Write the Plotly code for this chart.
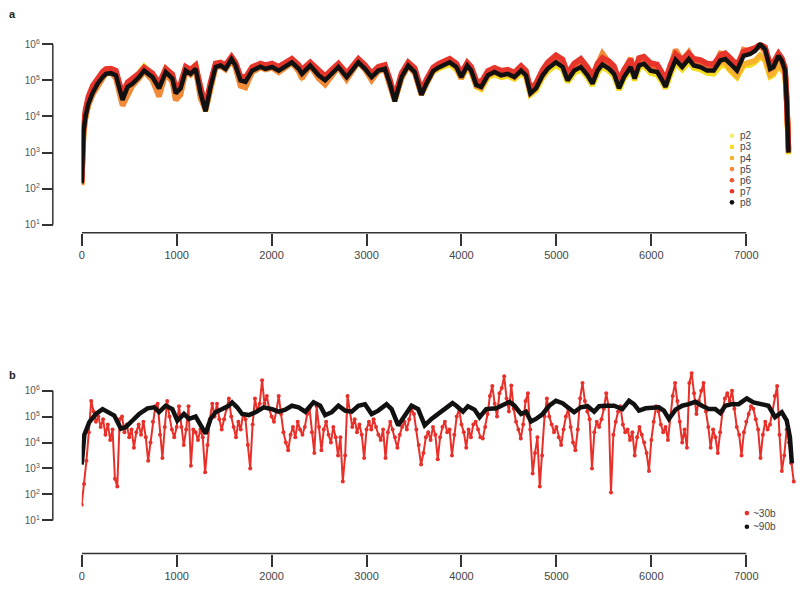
import plotly.graph_objects as go

# ---------------- Panel a: coverage (log10) along genome, passages p2..p8
pos_a = [0, 8, 20, 40, 70, 115, 168, 220, 255, 308,
         360, 430, 483, 535, 605, 658, 745, 815, 885, 955,
         990, 1042, 1095, 1147, 1200, 1252, 1305, 1357, 1410, 1462,
         1515, 1578, 1620, 1672, 1725, 1795, 1882, 1935, 2005, 2075,
         2144, 2214, 2285, 2320, 2407, 2495, 2564, 2634, 2704, 2791,
         2844, 2914, 2984, 3054, 3124, 3194, 3246, 3298, 3369, 3439,
         3508, 3578, 3631, 3701, 3760, 3876, 3946, 3998, 4061, 4103,
         4156, 4208, 4278, 4348, 4418, 4488, 4558, 4628, 4680, 4726,
         4785, 4855, 4908, 4995, 5065, 5118, 5187, 5257, 5328, 5380,
         5433, 5485, 5555, 5607, 5660, 5712, 5782, 5824, 5870, 5922,
         5992, 6062, 6115, 6150, 6202, 6255, 6325, 6394, 6447, 6517,
         6587, 6657, 6727, 6779, 6832, 6902, 6971, 7041, 7093, 7146,
         7198, 7251, 7286, 7339, 7374, 7409, 7426, 7437, 7445]

log_p8 = [2.15, 3.0, 3.6, 4.0, 4.35, 4.65, 4.91, 5.09, 5.18, 5.20,
          5.14, 4.46, 4.82, 4.91, 5.09, 5.27, 5.09, 4.78, 5.23, 5.05,
          4.64, 4.78, 5.27, 5.18, 5.32, 4.64, 4.14, 4.82, 5.37, 5.41,
          5.32, 5.59, 5.41, 5.00, 4.96, 5.27, 5.38, 5.32, 5.37, 5.27,
          5.37, 5.50, 5.32, 5.18, 5.41, 5.14, 5.00, 5.18, 5.37, 5.09,
          5.27, 5.50, 5.32, 5.09, 5.27, 5.32, 4.91, 4.42, 5.09, 5.41,
          5.23, 4.60, 4.91, 5.26, 5.36, 5.50, 5.37, 5.09, 5.41, 5.27,
          4.87, 4.82, 5.14, 5.23, 5.14, 5.18, 5.09, 5.27, 5.14, 4.64,
          4.78, 5.14, 5.32, 5.50, 5.37, 5.00, 5.27, 5.37, 5.14, 4.91,
          5.27, 5.44, 5.32, 5.18, 4.78, 5.09, 5.37, 5.05, 5.41, 5.46,
          5.27, 5.23, 5.00, 4.82, 5.23, 5.57, 5.37, 5.59, 5.41, 5.37,
          5.27, 5.27, 5.55, 5.59, 5.46, 5.27, 5.68, 5.73, 5.82, 6.00,
          5.86, 5.32, 5.37, 5.68, 5.55, 5.27, 4.46, 3.55, 3.0]

log_p7 = [2.2, 3.2, 3.8, 4.2, 4.55, 4.85, 5.08, 5.24, 5.32, 5.33,
          5.27, 4.62, 4.95, 5.05, 5.2, 5.36, 5.2, 4.92, 5.33, 5.17,
          4.8, 4.92, 5.38, 5.3, 5.42, 4.8, 4.3, 4.95, 5.47, 5.5,
          5.43, 5.66, 5.5, 5.12, 5.08, 5.37, 5.47, 5.42, 5.47, 5.38,
          5.47, 5.6, 5.43, 5.3, 5.5, 5.26, 5.12, 5.3, 5.47, 5.2,
          5.38, 5.6, 5.43, 5.2, 5.38, 5.43, 5.03, 4.55, 5.2, 5.5,
          5.34, 4.73, 5.03, 5.36, 5.46, 5.6, 5.47, 5.2, 5.5, 5.38,
          5.0, 4.95, 5.26, 5.35, 5.27, 5.3, 5.22, 5.4, 5.27, 4.78,
          4.92, 5.3, 5.5, 5.7, 5.58, 5.2, 5.47, 5.6, 5.36, 5.12,
          5.47, 5.62, 5.53, 5.4, 5.0, 5.3, 5.58, 5.25, 5.62, 5.66,
          5.48, 5.44, 5.2, 5.02, 5.43, 5.73, 5.57, 5.75, 5.6, 5.57,
          5.47, 5.45, 5.7, 5.75, 5.62, 5.43, 5.8, 5.85, 5.9, 6.0,
          5.92, 5.45, 5.5, 5.75, 5.62, 5.35, 4.6, 3.7, 3.1]

log_p6 = [2.18, 3.1, 3.7, 4.1, 4.45, 4.75, 5.0, 5.17, 5.26, 5.28,
          5.22, 4.55, 4.9, 4.98, 5.15, 5.33, 5.15, 4.86, 5.3, 5.12,
          4.72, 4.86, 5.34, 5.25, 5.38, 4.73, 4.22, 4.9, 5.43, 5.47,
          5.38, 5.63, 5.46, 5.07, 5.03, 5.33, 5.44, 5.38, 5.43, 5.34,
          5.43, 5.56, 5.38, 5.25, 5.46, 5.2, 5.07, 5.25, 5.43, 5.15,
          5.33, 5.56, 5.38, 5.15, 5.33, 5.38, 4.97, 4.5, 5.15, 5.46,
          5.3, 4.67, 4.97, 5.32, 5.42, 5.56, 5.43, 5.15, 5.46, 5.33,
          4.94, 4.89, 5.2, 5.3, 5.21, 5.25, 5.16, 5.34, 5.21, 4.72,
          4.86, 5.24, 5.44, 5.64, 5.52, 5.15, 5.41, 5.54, 5.3, 5.06,
          5.41, 5.58, 5.47, 5.34, 4.93, 5.24, 5.52, 5.2, 5.56, 5.6,
          5.42, 5.38, 5.14, 4.96, 5.38, 5.68, 5.5, 5.7, 5.54, 5.5,
          5.42, 5.4, 5.65, 5.7, 5.57, 5.38, 5.76, 5.8, 5.87, 5.98,
          5.9, 5.42, 5.46, 5.72, 5.6, 5.32, 4.55, 3.65, 3.05]

log_p5 = [2.1, 2.9, 3.5, 3.95, 4.3, 4.6, 4.85, 5.05, 5.2, 5.22,
          5.05, 4.3, 4.55, 4.85, 5.05, 5.25, 5.0, 4.55, 5.2, 4.95,
          4.45, 4.6, 5.25, 5.15, 5.3, 4.5, 4.2, 4.7, 5.35, 5.4,
          5.3, 5.55, 5.35, 4.85, 4.8, 5.22, 5.36, 5.3, 5.35, 5.22,
          5.35, 5.48, 5.25, 5.05, 5.4, 5.05, 4.88, 5.12, 5.36, 5.02,
          5.25, 5.5, 5.3, 5.0, 5.25, 5.3, 4.85, 4.45, 5.05, 5.4,
          5.2, 4.6, 4.9, 5.25, 5.38, 5.52, 5.38, 5.05, 5.42, 5.25,
          4.85, 4.8, 5.15, 5.25, 5.18, 5.22, 5.1, 5.3, 5.18, 4.65,
          4.8, 5.2, 5.45, 5.62, 5.48, 5.05, 5.42, 5.55, 5.25, 5.0,
          5.45, 5.75, 5.5, 5.35, 4.85, 5.25, 5.62, 5.2, 5.6, 5.6,
          5.35, 5.3, 5.05, 4.9, 5.4, 5.85, 5.55, 5.78, 5.5, 5.45,
          5.35, 5.35, 5.75, 5.72, 5.5, 5.3, 5.85, 5.8, 5.85, 5.95,
          5.8, 5.3, 5.35, 5.65, 5.5, 5.25, 4.5, 3.6, 3.0]

log_p4 = [2.12, 2.95, 3.55, 3.95, 4.32, 4.62, 4.88, 5.06, 5.18, 5.2,
          5.1, 4.35, 4.65, 4.88, 5.1, 5.3, 5.05, 4.62, 5.22, 5.0,
          4.5, 4.68, 5.28, 5.2, 5.36, 4.55, 4.15, 4.75, 5.36, 5.42,
          5.32, 5.58, 5.38, 4.9, 4.88, 5.25, 5.38, 5.32, 5.36, 5.25,
          5.36, 5.5, 5.3, 5.1, 5.42, 5.1, 4.92, 5.15, 5.38, 5.06,
          5.27, 5.52, 5.32, 5.05, 5.27, 5.32, 4.88, 4.42, 5.08, 5.42,
          5.22, 4.62, 4.92, 5.26, 5.37, 5.5, 5.37, 5.08, 5.4, 5.26,
          4.86, 4.8, 5.13, 5.22, 5.14, 5.18, 5.08, 5.27, 5.14, 4.64,
          4.78, 5.14, 5.35, 5.55, 5.42, 5.02, 5.32, 5.45, 5.18, 4.95,
          5.32, 5.55, 5.4, 5.25, 4.82, 5.15, 5.45, 5.1, 5.45, 5.5,
          5.3, 5.25, 5.02, 4.85, 5.28, 5.65, 5.45, 5.65, 5.45, 5.4,
          5.3, 5.28, 5.5, 5.5, 5.3, 5.12, 5.45, 5.5, 5.55, 5.7,
          5.6, 5.15, 5.2, 5.45, 5.35, 5.2, 4.45, 3.55, 3.0]

log_p3 = [2.15, 3.0, 3.6, 4.0, 4.38, 4.7, 4.95, 5.12, 5.22, 5.25,
          5.18, 4.5, 4.85, 4.95, 5.15, 5.36, 5.12, 4.8, 5.3, 5.12,
          4.68, 4.8, 5.32, 5.25, 5.42, 4.68, 4.2, 4.85, 5.42, 5.45,
          5.35, 5.6, 5.42, 5.02, 5.0, 5.3, 5.4, 5.33, 5.38, 5.28,
          5.38, 5.52, 5.33, 5.18, 5.42, 5.14, 5.0, 5.18, 5.38, 5.1,
          5.28, 5.5, 5.33, 5.1, 5.28, 5.33, 4.92, 4.45, 5.1, 5.4,
          5.22, 4.62, 4.9, 5.24, 5.32, 5.45, 5.3, 5.05, 5.35, 5.22,
          4.82, 4.75, 5.08, 5.16, 5.08, 5.12, 5.04, 5.2, 5.08, 4.6,
          4.72, 5.08, 5.25, 5.42, 5.3, 4.95, 5.2, 5.3, 5.08, 4.86,
          5.2, 5.38, 5.25, 5.12, 4.74, 5.04, 5.32, 5.0, 5.35, 5.4,
          5.2, 5.15, 4.95, 4.78, 5.16, 5.48, 5.3, 5.5, 5.34, 5.3,
          5.2, 5.18, 5.4, 5.42, 5.26, 5.08, 5.4, 5.42, 5.5, 5.65,
          5.55, 5.1, 5.15, 5.4, 5.3, 5.15, 4.4, 3.5, 2.95]

log_p2 = [2.2, 3.05, 3.65, 4.05, 4.4, 4.72, 4.98, 5.14, 5.25, 5.28,
          5.2, 4.55, 4.88, 4.98, 5.2, 5.4, 5.15, 4.84, 5.32, 5.15,
          4.72, 4.85, 5.35, 5.28, 5.45, 4.72, 4.25, 4.88, 5.44, 5.47,
          5.38, 5.62, 5.45, 5.05, 5.03, 5.32, 5.42, 5.35, 5.4, 5.3,
          5.4, 5.55, 5.36, 5.2, 5.45, 5.18, 5.04, 5.22, 5.42, 5.14,
          5.32, 5.55, 5.36, 5.14, 5.3, 5.36, 4.95, 4.5, 5.12, 5.43,
          5.24, 4.65, 4.93, 5.25, 5.34, 5.46, 5.32, 5.05, 5.36, 5.24,
          4.84, 4.78, 5.1, 5.18, 5.1, 5.14, 5.05, 5.22, 5.1, 4.62,
          4.74, 5.1, 5.28, 5.45, 5.32, 4.97, 5.22, 5.32, 5.1, 4.88,
          5.22, 5.4, 5.27, 5.14, 4.76, 5.06, 5.34, 5.02, 5.37, 5.42,
          5.22, 5.17, 4.97, 4.8, 5.18, 5.5, 5.32, 5.52, 5.36, 5.32,
          5.22, 5.2, 5.42, 5.45, 5.28, 5.1, 5.42, 5.45, 5.52, 5.68,
          5.58, 5.12, 5.17, 5.42, 5.32, 5.17, 4.42, 3.52, 2.98]

series_a = ["p2", "p3", "p4", "p5", "p6", "p7", "p8"]

# ---------------- Panel b: ~30b and ~90b windows (log10 coverage)
pos_30b = list(range(0, 7501, 25))
log_30b = [1.6, 2.4, 3.3, 4.4, 5.6, 5.2, 4.8, 5.0, 4.6, 4.9, 4.3, 4.7, 4.1, 4.5, 2.6, 2.3, 4.9, 5.0, 4.4, 4.7,
           4.2, 4.5, 3.8, 4.4, 4.7, 4.3, 4.8, 4.2, 3.3, 4.0, 4.8, 5.4, 5.5, 4.3, 3.4, 4.6, 5.6, 5.0, 4.5, 4.2,
           4.6, 5.4, 4.6, 3.9, 4.5, 5.4, 3.1, 4.5, 4.4, 4.1, 4.5, 4.2, 2.85, 3.9, 4.9, 5.5, 5.0, 5.5, 4.9, 4.5,
           4.9, 5.3, 5.7, 5.0, 4.6, 4.2, 4.8, 4.5, 5.1, 4.9, 3.9, 3.0, 4.7, 5.7, 5.2, 5.5, 6.4, 5.5, 5.8, 5.3,
           5.0, 4.8, 5.2, 5.8, 5.1, 4.4, 4.0, 3.7, 4.3, 4.6, 4.2, 4.8, 4.5, 4.3, 4.6, 5.1, 5.3, 4.4, 3.6, 5.4,
           4.6, 3.7, 4.5, 4.8, 4.3, 4.0, 4.6, 4.2, 3.5, 4.2, 2.5, 3.5, 5.8, 5.2, 4.6, 4.9, 4.4, 4.7, 4.3, 3.4,
           4.5, 4.8, 4.5, 4.9, 4.6, 4.3, 4.1, 4.5, 3.4, 4.4, 4.8, 4.5, 4.2, 3.8, 4.3, 4.6, 4.8, 4.5, 4.9, 5.3,
           5.1, 4.5, 3.9, 3.15, 3.6, 4.2, 4.4, 4.1, 4.6, 4.3, 3.35, 4.2, 4.6, 4.8, 4.4, 4.5, 3.5, 4.3, 5.0, 5.3,
           4.7, 4.4, 3.8, 4.5, 4.2, 4.7, 4.8, 4.5, 4.2, 4.16, 4.6, 5.1, 5.8, 6.18, 5.5, 5.0, 5.9, 6.1, 6.56, 5.7,
           5.2, 6.2, 5.3, 4.8, 4.5, 4.16, 4.7, 5.6, 5.9, 4.5, 2.8, 3.6, 4.2, 2.3, 3.5, 5.0, 5.7, 5.0, 4.7, 4.4,
           4.6, 4.2, 3.9, 4.5, 5.0, 5.3, 4.6, 4.0, 3.7, 4.5, 5.7, 6.3, 5.6, 5.2, 4.9, 3.0, 4.4, 4.8, 4.6, 4.9,
           5.3, 5.9, 5.4, 2.07, 4.3, 4.8, 5.2, 5.4, 4.7, 4.4, 4.5, 4.1, 4.4, 3.5, 4.2, 4.6, 4.3, 4.0, 3.6, 2.9,
           4.1, 4.8, 5.4, 5.2, 4.7, 4.4, 4.6, 4.1, 5.0, 5.8, 6.3, 5.6, 4.8, 4.0, 4.5, 3.8, 6.3, 6.68, 5.9, 5.1,
           5.6, 6.0, 6.3, 5.2, 4.6, 3.8, 4.5, 4.2, 3.6, 4.4, 5.2, 5.7, 5.9, 5.6, 6.0, 5.3, 4.6, 4.3, 3.5, 4.4,
           4.8, 5.1, 5.4, 5.3, 4.9, 4.5, 3.4, 4.3, 4.8, 4.5, 4.7, 5.2, 5.8, 6.18, 4.3, 2.9, 3.5, 4.5, 4.0, 3.2,
           2.5]

pos_90b = [0, 28, 80, 150, 220, 290, 343, 413, 465, 535,
           605, 693, 763, 815, 885, 955, 1007, 1077, 1130, 1200,
           1252, 1305, 1357, 1410, 1480, 1550, 1584, 1637, 1690, 1760,
           1830, 1917, 2005, 2075, 2144, 2214, 2285, 2355, 2442, 2512,
           2564, 2634, 2704, 2774, 2844, 2914, 2984, 3054, 3124, 3211,
           3264, 3334, 3404, 3474, 3544, 3613, 3684, 3748, 3818, 3906,
           3946, 4016, 4068, 4138, 4191, 4261, 4366, 4418, 4506, 4558,
           4628, 4680, 4733, 4785, 4855, 4925, 4995, 5065, 5135, 5187,
           5257, 5328, 5398, 5450, 5520, 5607, 5695, 5765, 5817, 5870,
           5940, 6010, 6080, 6132, 6185, 6255, 6325, 6394, 6464, 6534,
           6604, 6674, 6727, 6779, 6849, 6919, 7006, 7076, 7163, 7233,
           7303, 7374, 7426, 7460, 7480]
log_90b = [3.15, 4.30, 4.79, 5.10, 5.29, 5.17, 5.04, 4.53, 4.60, 4.85,
           5.10, 5.32, 5.36, 5.17, 5.42, 5.29, 4.85, 5.10, 4.91, 5.00,
           4.66, 4.34, 4.91, 5.17, 5.29, 5.42, 5.55, 5.36, 5.10, 5.06,
           5.17, 5.36, 5.29, 5.19, 5.27, 5.42, 5.36, 5.19, 5.55, 5.42,
           5.06, 5.17, 5.42, 5.23, 5.19, 5.42, 5.48, 5.10, 5.23, 5.48,
           5.29, 4.66, 5.04, 5.42, 5.29, 4.66, 4.91, 5.10, 5.29, 5.52,
           5.42, 5.19, 5.40, 5.27, 4.98, 5.29, 5.32, 5.42, 5.57, 5.42,
           5.10, 5.19, 4.81, 4.91, 5.10, 5.42, 5.61, 5.52, 5.29, 5.17,
           5.36, 5.40, 5.19, 5.40, 5.42, 5.42, 5.29, 5.61, 5.48, 5.23,
           5.32, 5.32, 5.36, 5.23, 4.91, 5.27, 5.42, 5.48, 5.57, 5.42,
           5.29, 5.29, 5.14, 5.42, 5.48, 5.48, 5.70, 5.55, 5.48, 5.42,
           4.98, 5.17, 4.85, 4.2, 3.2]

x_ticks = [0, 1000, 2000, 3000, 4000, 5000, 6000, 7000]
y_exps = [1, 2, 3, 4, 5, 6]

# ---------------- styling
W, H = 800, 592
colors_a = {"p2": "#f6ec6c", "p3": "#f3dc1e", "p4": "#f7b22c", "p5": "#f28a38",
            "p6": "#ee5a32", "p7": "#e8352b", "p8": "#111111"}
logs_a = {"p2": log_p2, "p3": log_p3, "p4": log_p4, "p5": log_p5,
          "p6": log_p6, "p7": log_p7, "p8": log_p8}
AX = "#333333"
FONT = "Liberation Sans, Arial, Helvetica, sans-serif"


def px(x):
    return x / W


def py(y):
    return 1 - y / H


fig = go.Figure()

for s in series_a:
    fig.add_trace(go.Scatter(
        x=pos_a, y=[10 ** v for v in logs_a[s]], mode="lines", name=s,
        line=dict(color=colors_a[s], width=4.5 if s == "p8" else 5.5),
        xaxis="x", yaxis="y", showlegend=False))

fig.add_trace(go.Scatter(
    x=pos_30b, y=[10 ** v for v in log_30b], mode="lines+markers", name="~30b",
    line=dict(color="#e8302a", width=2),
    marker=dict(color="#e8302a", size=4),
    xaxis="x2", yaxis="y2", showlegend=False))
fig.add_trace(go.Scatter(
    x=pos_90b, y=[10 ** v for v in log_90b], mode="lines", name="~90b",
    line=dict(color="#111111", width=4.5),
    xaxis="x2", yaxis="y2", showlegend=False))

XR = [0, 7545]
XD = [px(79), px(798)]
ya_range = [1, 6.05]
yb_range = [1, 6.75]
ya_dom = [py(224), py(224 - (ya_range[1] - 1) * 36.8)]
yb_dom = [py(525), py(525 - (yb_range[1] - 1) * 26.4)]
xa_pos = py(232)
xb_pos = py(559)
y_pos = px(50)

common_x = dict(range=XR, domain=XD, anchor="free", tickvals=x_ticks,
                ticktext=[str(t) for t in x_ticks], ticks="outside", ticklen=12,
                tickwidth=1.5, tickcolor=AX, showline=False, showgrid=False,
                zeroline=False, tickfont=dict(size=11, color="#444", family=FONT))
common_y = dict(type="log", anchor="free", position=y_pos,
                tickvals=[10 ** e for e in y_exps],
                ticktext=["10<sup>%d</sup>" % e for e in y_exps],
                ticks="outside", ticklen=11, tickwidth=1.5, tickcolor=AX,
                showline=False, showgrid=False, zeroline=False,
                tickfont=dict(size=10, color="#555", family=FONT))

fig.update_layout(
    width=W, height=H, margin=dict(l=0, r=0, t=0, b=0),
    paper_bgcolor="white", plot_bgcolor="white",
    xaxis=dict(position=xa_pos, **common_x),
    xaxis2=dict(position=xb_pos, **common_x),
    yaxis=dict(domain=ya_dom, range=ya_range, **common_y),
    yaxis2=dict(domain=yb_dom, range=yb_range, **common_y),
)

shapes = [
    dict(type="line", xref="x", yref="paper", x0=0, x1=7000, y0=xa_pos, y1=xa_pos,
         line=dict(color=AX, width=1.5)),
    dict(type="line", xref="x2", yref="paper", x0=0, x1=7000, y0=xb_pos, y1=xb_pos,
         line=dict(color=AX, width=1.5)),
    dict(type="line", xref="paper", yref="y domain", x0=y_pos, x1=y_pos, y0=0,
         y1=5 / (ya_range[1] - 1), line=dict(color=AX, width=1.5)),
    dict(type="line", xref="paper", yref="y2 domain", x0=y_pos, x1=y_pos, y0=0,
         y1=5 / (yb_range[1] - 1), line=dict(color=AX, width=1.5)),
]
annotations = [
    dict(text="<b>a</b>", x=px(4), y=py(9), xref="paper", yref="paper",
         xanchor="left", yanchor="middle", showarrow=False,
         font=dict(size=11, color="#222", family=FONT)),
    dict(text="<b>b</b>", x=px(4), y=py(377), xref="paper", yref="paper",
         xanchor="left", yanchor="middle", showarrow=False,
         font=dict(size=11, color="#222", family=FONT)),
]

# manual legends
leg_a_y = [133.3, 144.6, 155.9, 167.2, 178.5, 189.8, 201.1]
for s, yy in zip(series_a, leg_a_y):
    shapes.append(dict(type="circle", xref="paper", yref="paper",
                       xsizemode="pixel", ysizemode="pixel",
                       xanchor=px(731.7), yanchor=py(yy), x0=-2.3, x1=2.3, y0=-2.3, y1=2.3,
                       fillcolor=colors_a[s], line=dict(width=0)))
    annotations.append(dict(text=s, x=px(738), y=py(yy), xref="paper", yref="paper",
                            xanchor="left", yanchor="middle", showarrow=False,
                            font=dict(size=10, color="#444", family=FONT)))
for name, col, yy in [("~30b", "#e8302a", 517.7), ("~90b", "#111111", 531.7)]:
    shapes.append(dict(type="circle", xref="paper", yref="paper",
                       xsizemode="pixel", ysizemode="pixel",
                       xanchor=px(746.7), yanchor=py(yy), x0=-2.3, x1=2.3, y0=-2.3, y1=2.3,
                       fillcolor=col, line=dict(width=0)))
    annotations.append(dict(text=name, x=px(750.5), y=py(yy), xref="paper", yref="paper",
                            xanchor="left", yanchor="middle", showarrow=False,
                            font=dict(size=10, color="#444", family=FONT)))

fig.update_layout(shapes=shapes, annotations=annotations)

fig.write_html("out.html", config={"displayModeBar": False},
               post_script="document.body.style.margin='0';document.body.style.overflow='hidden';")
